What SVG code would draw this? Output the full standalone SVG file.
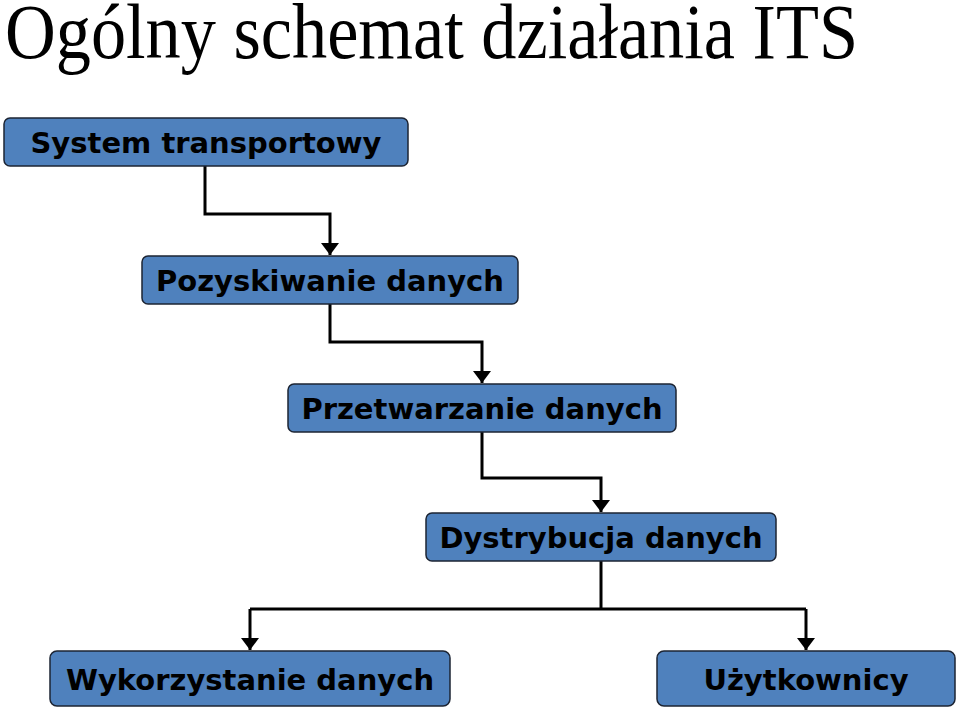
<svg xmlns="http://www.w3.org/2000/svg" width="959" height="710" viewBox="0 0 959 710">
<defs>
<style>
.box{fill:#4F81BD;stroke:#1c2433;stroke-width:1.5}
.lbl{font-family:"DejaVu Sans",Verdana,sans-serif;font-weight:bold;fill:#000;text-anchor:middle}
.conn{fill:none;stroke:#000;stroke-width:3}
.title{font-family:"Liberation Serif","Times New Roman",serif;fill:#000}
</style>
<marker id="arr" markerWidth="4" markerHeight="6" refX="4" refY="3" orient="auto" markerUnits="strokeWidth">
<path d="M0,0 L4,3 L0,6 Z" fill="#000"/>
</marker>
</defs>
<rect width="959" height="710" fill="#fff"/>
<text class="title" transform="translate(5,58) scale(1,1.2)" x="0" y="0" font-size="66" textLength="853" lengthAdjust="spacingAndGlyphs">Ogólny schemat działania ITS</text>
<g id="connectors">
<path class="conn" d="M205,166 V214 H330 V255" marker-end="url(#arr)"/>
<path class="conn" d="M330,304 V342 H482 V383" marker-end="url(#arr)"/>
<path class="conn" d="M482,432 V478 H601 V512" marker-end="url(#arr)"/>
<path class="conn" d="M601,561 V609"/>
<path class="conn" d="M250,609 H806"/>
<path class="conn" d="M250,609 V650" marker-end="url(#arr)"/>
<path class="conn" d="M806,609 V650" marker-end="url(#arr)"/>
</g>
<g id="system-transportowy">
<rect class="box" x="4" y="118" width="404" height="48" rx="6"/>
<text class="lbl" x="206" y="153" font-size="29">System transportowy</text>
</g>
<g id="pozyskiwanie-danych">
<rect class="box" x="142" y="256" width="376" height="48" rx="6"/>
<text class="lbl" x="330" y="291" font-size="29">Pozyskiwanie danych</text>
</g>
<g id="przetwarzanie-danych">
<rect class="box" x="288" y="384" width="388" height="48" rx="6"/>
<text class="lbl" x="482" y="419" font-size="29">Przetwarzanie danych</text>
</g>
<g id="dystrybucja-danych">
<rect class="box" x="426" y="513" width="350" height="48" rx="6"/>
<text class="lbl" x="601" y="548" font-size="29">Dystrybucja danych</text>
</g>
<g id="wykorzystanie-danych">
<rect class="box" x="50" y="651" width="400" height="55" rx="7"/>
<text class="lbl" x="250" y="690" font-size="29">Wykorzystanie danych</text>
</g>
<g id="uzytkownicy">
<rect class="box" x="657" y="651" width="298" height="55" rx="7"/>
<text class="lbl" x="806" y="690" font-size="29">Użytkownicy</text>
</g>
</svg>
